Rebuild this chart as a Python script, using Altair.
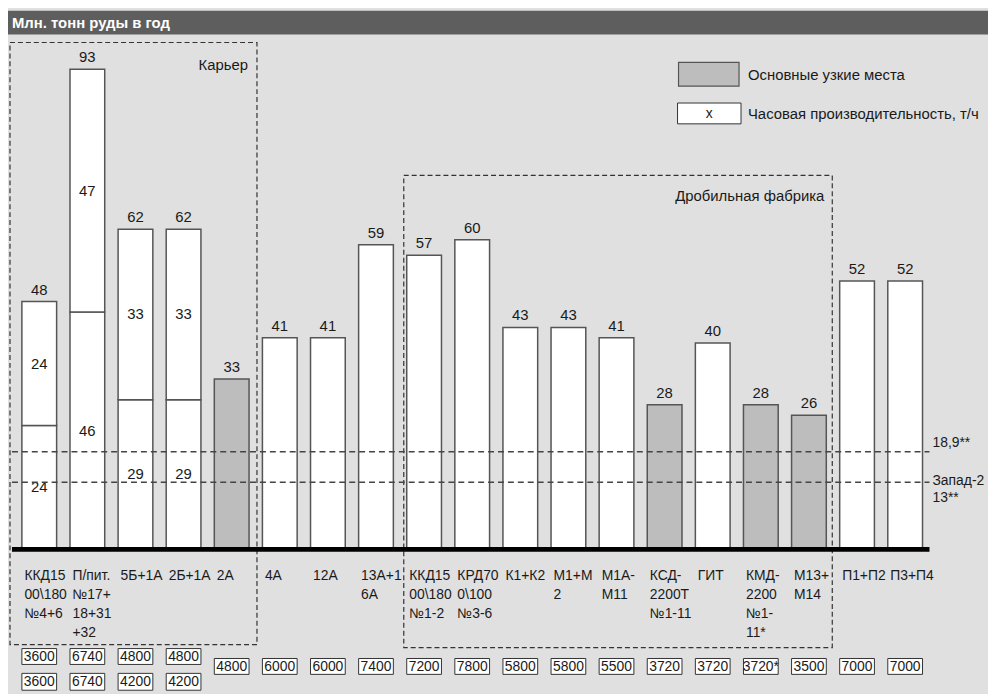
import altair as alt
import pandas as pd

# ---------------- data ----------------
categories = [
    "ККД15\n00\\180\n№4+6",
    "П/пит.\n№17+\n18+31\n\u00a0\u00a0+32",
    "5Б+1А",
    "2Б+1А",
    "2А",
    "4А",
    "12А",
    "13А+1\n6А",
    "ККД15\n00\\180\n№1-2",
    "КРД70\n0\\100\n№3-6",
    "К1+К2",
    "М1+М\n2",
    "М1А-\nМ11",
    "КСД-\n2200Т\n№1-11",
    "ГИТ",
    "КМД-\n2200\n№1-\n11*",
    "М13+\nМ14",
    "П1+П2",
    "П3+П4",
]
lower_values = [24, 46, 29, 29, 33, 41, 41, 59, 57, 60, 43, 43, 41, 28, 40, 28, 26, 52, 52]
upper_values = [24, 47, 33, 33, 0, 0, 0, 0, 0, 0, 0, 0, 0, 0, 0, 0, 0, 0, 0]
bottleneck = [False, False, False, False, True, False, False, False, False, False,
              False, False, False, True, False, True, True, False, False]

tph_row1 = ["3600", "6740", "4800", "4800"]
tph_row2 = ["3600", "6740", "4200", "4200"]
tph_single = ["4800", "6000", "6000", "7400", "7200", "7800", "5800", "5800",
              "5500", "3720", "3720", "3720*", "3500", "7000", "7000"]

limit_values = [18.9, 13]
limit_labels = ["18,9**", "Запад-2\n13**"]

title_text = "Млн. тонн руды в год"
group_labels = ["Карьер", "Дробильная фабрика"]
legend_labels = ["Основные узкие места", "Часовая производительность, т/ч"]

# ---------------- tables ----------------
seg_rows = []
for c, lo, up, b in zip(categories, lower_values, upper_values, bottleneck):
    seg_rows.append({"cat": c, "y0": 0, "y1": lo, "kind": "gray" if b else "white"})
    if up > 0:
        seg_rows.append({"cat": c, "y0": lo, "y1": lo + up, "kind": "white"})
seg_df = pd.DataFrame(seg_rows)

tot_df = pd.DataFrame({"cat": categories,
                       "total": [a + b for a, b in zip(lower_values, upper_values)]})

seg_lab_rows = []
for c, lo, up in zip(categories, lower_values, upper_values):
    if up > 0:
        seg_lab_rows.append({"cat": c, "ym": lo / 2, "lab": str(lo)})
        seg_lab_rows.append({"cat": c, "ym": lo + up / 2, "lab": str(up)})
seg_lab_df = pd.DataFrame(seg_lab_rows)

cat_df = pd.DataFrame({"cat": categories})
row1_df = pd.DataFrame({"cat": categories[:4], "lab": tph_row1})
row2_df = pd.DataFrame({"cat": categories[:4], "lab": tph_row2})
single_df = pd.DataFrame({"cat": categories[4:], "lab": tph_single})
limit1_df = pd.DataFrame({"v": [limit_values[0]], "lab": [limit_labels[0]]})
limit2_df = pd.DataFrame({"v": [limit_values[1]], "lab": [limit_labels[1]]})
limit_df = pd.DataFrame({"v": limit_values})
zero_df = pd.DataFrame({"v": [0]})
one = pd.DataFrame({"a": [0]})

# ---------------- style ----------------
REG = "Liberation Sans, Arial, Helvetica, sans-serif"
INK = "#1a1a1a"
EDGE = "#555555"
W, H = 988, 686

# x: bands of 35px on a 48.5px step, first band starting 14px from the left
xscale = alt.Scale(domain=categories, paddingInner=0.278, paddingOuter=0.825,
                   align=0.175, round=False)
# y: value 0 at 543px, 93 at 59px (from the top) on a 686px high plot
yscale = alt.Scale(domain=[-27.48, 104.34], nice=False, zero=False)
X = alt.X("cat:N", scale=xscale, axis=None, sort=None)


def Y(field):
    return alt.Y(field, scale=yscale, axis=None)


base_one = alt.Chart(one)

layers = []

# title bar
layers.append(base_one.mark_rect(color="#5e5e5e").encode(
    x=alt.value(0), x2=alt.value(W), y=alt.value(0), y2=alt.value(24)))
layers.append(base_one.mark_text(align="left", baseline="middle", font=REG, fontSize=15,
                                 fontWeight="bold", color="white", text=title_text).encode(
    x=alt.value(4), y=alt.value(12)))

# dashed group boxes
box_style = dict(fill="white", fillOpacity=0, stroke="#333333", strokeWidth=1.2, strokeDash=[5, 3])
layers.append(base_one.mark_rect(**box_style).encode(
    x=alt.value(2), x2=alt.value(251), y=alt.value(32), y2=alt.value(639)))
layers.append(base_one.mark_rect(**box_style).encode(
    x=alt.value(399), x2=alt.value(831), y=alt.value(166), y2=alt.value(642)))
layers.append(base_one.mark_text(align="right", baseline="middle", font=REG, fontSize=15,
                                 color=INK, text=group_labels[0]).encode(
    x=alt.value(242), y=alt.value(55)))
layers.append(base_one.mark_text(align="right", baseline="middle", font=REG, fontSize=15,
                                 color=INK, text=group_labels[1]).encode(
    x=alt.value(823), y=alt.value(187)))

# bars
layers.append(alt.Chart(seg_df).mark_bar(stroke=EDGE, strokeWidth=1.5).encode(
    x=X,
    y=Y("y1:Q"),
    y2="y0:Q",
    fill=alt.Fill("kind:N", scale=alt.Scale(domain=["white", "gray"],
                                            range=["#ffffff", "#bdbdbd"]), legend=None),
))
layers.append(alt.Chart(tot_df).mark_text(baseline="alphabetic", dy=-7, font=REG, fontSize=15,
                                          color=INK).encode(
    x=X, y=Y("total:Q"), text="total:Q"))
layers.append(alt.Chart(seg_lab_df).mark_text(baseline="middle", font=REG, fontSize=15,
                                              color=INK).encode(
    x=X, y=Y("ym:Q"), text="lab:N"))

# limits and baseline
layers.append(alt.Chart(limit_df).mark_rule(color="#444444", strokeWidth=1.5,
                                            strokeDash=[6, 4]).encode(
    x=alt.value(4), x2=alt.value(929), y=Y("v:Q")))
layers.append(alt.Chart(zero_df).mark_rule(color="black", strokeWidth=5).encode(
    x=alt.value(4), x2=alt.value(929), y=Y("v:Q")))
layers.append(alt.Chart(limit1_df).mark_text(align="left", baseline="middle", dy=-9,
                                             font=REG, fontSize=14, color=INK).encode(
    x=alt.value(932), y=Y("v:Q"), text="lab:N"))
layers.append(alt.Chart(limit2_df).mark_text(align="left", baseline="middle", dy=-1,
                                             lineBreak="\n", lineHeight=17,
                                             font=REG, fontSize=14, color=INK).encode(
    x=alt.value(932), y=Y("v:Q"), text="lab:N"))

# category labels
layers.append(alt.Chart(cat_df).mark_text(align="left", baseline="alphabetic", dx=-15,
                                          lineBreak="\n", lineHeight=19, font=REG,
                                          fontSize=14, color=INK).encode(
    x=X, y=alt.value(574), text="cat:N"))

# throughput boxes
for df, y_top, y_bot in [(row1_df, 643, 659), (row2_df, 668, 685), (single_df, 653, 669)]:
    layers.append(alt.Chart(df).mark_rect(fill="white", stroke="#333333", strokeWidth=1).encode(
        x=X, y=alt.value(y_top), y2=alt.value(y_bot)))
    layers.append(alt.Chart(df).mark_text(baseline="middle", font=REG, fontSize=14,
                                          color=INK).encode(
        x=X, y=alt.value((y_top + y_bot) / 2 + 0.5), text="lab:N"))

# legend
layers.append(base_one.mark_rect(fill="#bdbdbd", stroke=EDGE, strokeWidth=1.2).encode(
    x=alt.value(676), x2=alt.value(737), y=alt.value(52), y2=alt.value(76)))
layers.append(base_one.mark_rect(fill="white", stroke="#333333", strokeWidth=1).encode(
    x=alt.value(675), x2=alt.value(739), y=alt.value(93), y2=alt.value(114)))
layers.append(base_one.mark_text(baseline="middle", font=REG, fontSize=14, color=INK,
                                 text="x").encode(x=alt.value(707), y=alt.value(104)))
layers.append(base_one.mark_text(align="left", baseline="middle", font=REG, fontSize=15,
                                 color=INK, text=legend_labels[0]).encode(
    x=alt.value(746), y=alt.value(65)))
layers.append(base_one.mark_text(align="left", baseline="middle", font=REG, fontSize=15,
                                 color=INK, text=legend_labels[1]).encode(
    x=alt.value(746), y=alt.value(104)))

chart = alt.layer(*layers).properties(
    width=W, height=H, background="#e0e0e0", padding=0
).configure_view(stroke=None)

chart.save("out.html", embed_options={"renderer": "svg", "actions": False})
